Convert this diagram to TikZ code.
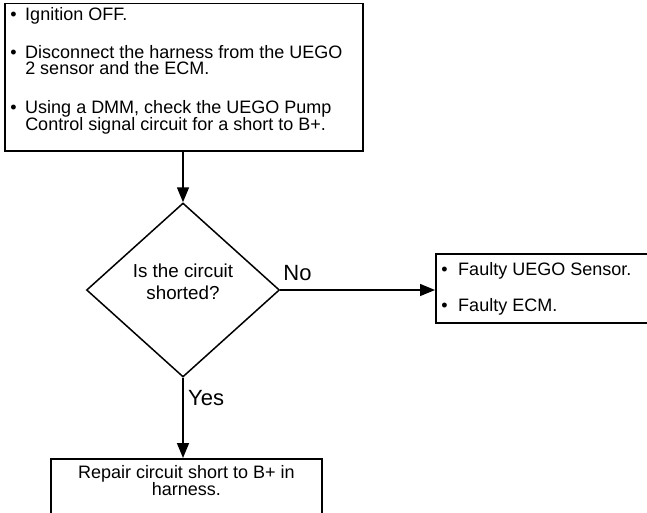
\documentclass[tikz,border=0pt]{standalone}
\usepackage{fontspec}
\setmainfont{Liberation Sans}
\usepackage{array}
\usetikzlibrary{
  arrows.meta,      % 三角形箭头
  shapes.geometric, % 菱形判断框
  positioning       % 节点相对定位
}
% 定宽列：内容不占行高，行距只由 \baselineskip 决定
\newcolumntype{L}[1]{>{\hbox to #1\bgroup\setbox0\hbox\bgroup}l<{\egroup\ht0=0pt\dp0=0pt\box0\hss\egroup}}
\newcolumntype{C}[1]{>{\hbox to #1\bgroup\hss\setbox0\hbox\bgroup}l<{\egroup\ht0=0pt\dp0=0pt\box0\hss\egroup}}

\begin{document}
\begin{tikzpicture}[x=1pt, y=-1pt, >={Triangle[length=15pt, width=12pt]},
    stepbox/.style={draw, line width=1.5pt, inner xsep=5.5pt, inner ysep=0pt,
      font=\fontsize{18}{16.7}\selectfont},
    decision/.style={draw, diamond, line width=1.5pt, aspect=1.109,
      minimum width=193pt, minimum height=174pt, inner sep=0pt,
      font=\fontsize{18.8}{22}\selectfont},
    answer/.style={inner sep=0pt, font=\fontsize{22}{26}\selectfont},
    flow/.style={->, line width=1.5pt}]

    \useasboundingbox (0,0) rectangle (647,512);

    % --- 检查步骤 ---
    \node[stepbox, anchor=north west, text height=17.5pt, text depth=130pt] (check) at (4,2.5) {%
      \begin{tabular}[t]{@{}L{15pt}@{}L{332pt}@{}}
        \textbullet & Ignition OFF.\\[20.6pt]
        \textbullet & Disconnect the harness from the UEGO\\
                    & 2 sensor and the ECM.\\[22pt]
        \textbullet & Using a DMM, check the UEGO Pump\\
                    & Control signal circuit for a short to B+.
      \end{tabular}};

    % --- 判断 ---
    \node[decision, text height=13pt, text depth=38.4pt] (dia) at (183,290) {%
      \begin{tabular}[t]{@{}C{110pt}@{}}
        Is the circuit\\
        shorted?
      \end{tabular}};

    % --- 结果 ---
    \node[stepbox, anchor=north west, text height=22pt, text depth=47pt] (fault) at (435,253) {%
      \begin{tabular}[t]{@{}L{17pt}@{}L{184pt}@{}}
        \textbullet & Faulty UEGO Sensor.\\[19.3pt]
        \textbullet & Faulty ECM.
      \end{tabular}};
    \node[stepbox, anchor=north, text height=19.7pt, text depth=60pt] (repair) at (186.3,458) {%
      \begin{tabular}[t]{@{}C{260pt}@{}}
        Repair circuit short to B+ in\\
        harness.
      \end{tabular}};

    % --- 连线 ---
    \draw[flow] (dia.north |- check.south) -- (dia.north);
    \draw[flow] (dia.east) -- (dia.east -| fault.west);
    \draw[flow] (dia.south) -- (dia.south |- repair.north);
    \node[answer, anchor=base west] (no) at ([xshift=3pt, yshift=10pt]dia.east) {No};
    \node[answer, anchor=base west] (yes) at ([xshift=5pt, yshift=-27.3pt]dia.south) {Yes};

\end{tikzpicture}
\end{document}
